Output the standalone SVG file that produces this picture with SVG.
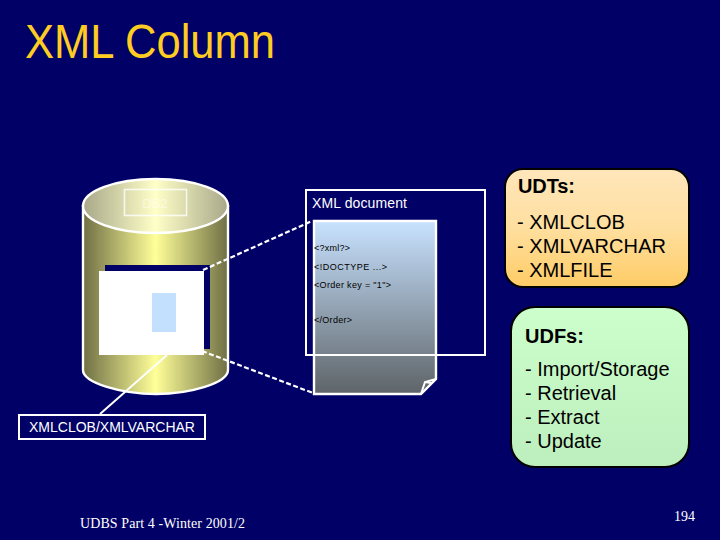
<svg xmlns="http://www.w3.org/2000/svg" width="720" height="540" viewBox="0 0 720 540">
<style>
.s{font-family:"Liberation Sans",Arial,sans-serif}
.w{stroke:#fff;stroke-width:2.4}
.d{fill:none;stroke:#fff;stroke-width:2.2;stroke-dasharray:5 2.500}
.t{font-size:20px;fill:#000}
.b{font-size:20px;fill:#000;font-weight:bold}
.x{font-size:9px;fill:#000}
.f{font-family:"Liberation Serif",serif;font-size:14px;fill:#fff}
</style>
<defs>
<linearGradient id="cyl"><stop offset="0" stop-color="#6f6f45"/><stop offset=".5" stop-color="#ffff99"/><stop offset="1" stop-color="#6f6f45"/></linearGradient>
<linearGradient id="top"><stop offset="0" stop-color="#a8a88a"/><stop offset=".5" stop-color="#ffffc8"/><stop offset="1" stop-color="#a8a88a"/></linearGradient>
<linearGradient id="doc" x2="0" y2="1"><stop offset="0" stop-color="#c8e2ff"/><stop offset="1" stop-color="#5e6468"/></linearGradient>
<linearGradient id="udt" x2="0" y2="1"><stop offset="0" stop-color="#ffe6bb"/><stop offset=".5" stop-color="#ffdf9f"/><stop offset="1" stop-color="#ffcc66"/></linearGradient>
<linearGradient id="udf" x2="0" y2="1"><stop offset="0" stop-color="#ccffcc"/><stop offset="1" stop-color="#bdeebd"/></linearGradient>
</defs>
<rect width="720" height="540" fill="#000066"/>
<text id="title" class="s" x="25" y="58" font-size="49" fill="#ffcc22" textLength="250" lengthAdjust="spacingAndGlyphs">XML Column</text>
<g id="db">
<path class="w" fill="url(#cyl)" d="M83 206V370C83 383 122 394 156 394S228 383 228 370V206Z"/>
<ellipse class="w" cx="155.500" cy="206" rx="72.500" ry="27" fill="url(#top)"/>
<rect x="124.500" y="189.500" width="62" height="26" fill="none" stroke="#fff" stroke-opacity=".8" stroke-width="1.600"/>
<text class="s" x="155" y="208" font-size="13" fill="#fff" fill-opacity=".5" text-anchor="middle">DB2</text>
<rect x="105" y="265" width="105" height="84" fill="#000066"/>
<rect x="99" y="271" width="105" height="84" fill="#fff"/>
<rect x="152" y="293" width="24" height="39" fill="#c4e0ff"/>
</g>
<g id="connectors">
<path class="d" d="M203 270L312 221"/>
<path class="d" d="M202 351L313 393"/>
<path d="M167 355L100 414" stroke="#fff" stroke-width="2" fill="none"/>
</g>
<g id="label">
<rect x="19" y="415" width="186" height="24" fill="#000066" stroke="#fff" stroke-width="2"/>
<text class="s" x="112" y="432" font-size="14" fill="#fff" text-anchor="middle">XMLCLOB/XMLVARCHAR</text>
</g>
<g id="xmldoc">
<path class="w" fill="url(#doc)" d="M314 221H436V379L421 394H314Z"/>
<path d="M436 379L425 382L421 394M425 382L431 383" fill="none" stroke="#fff" stroke-width="2"/>
<rect x="306" y="190" width="179" height="165" fill="none" stroke="#fff" stroke-width="2"/>
<text class="s" x="312" y="208" font-size="14" fill="#fff" textLength="95">XML document</text>
<text class="s x" x="314" y="251" textLength="36">&lt;?xml?&gt;</text>
<text class="s x" x="314" y="270" textLength="73">&lt;!DOCTYPE ...&gt;</text>
<text class="s x" x="314" y="288" textLength="77">&lt;Order key = "1"&gt;</text>
<text class="s x" x="314" y="323" textLength="38">&lt;/Order&gt;</text>
</g>
<g id="udts">
<rect x="505" y="169" width="184" height="118" rx="18" fill="url(#udt)" stroke="#000" stroke-width="2"/>
<text class="s b" x="518" y="193" textLength="57">UDTs:</text>
<text class="s t" x="517" y="229">- XMLCLOB</text>
<text class="s t" x="517" y="253" textLength="149">- XMLVARCHAR</text>
<text class="s t" x="517" y="277">- XMLFILE</text>
</g>
<g id="udfs">
<rect x="511" y="307" width="178" height="160" rx="24" fill="url(#udf)" stroke="#000" stroke-width="2"/>
<text class="s b" x="525" y="343">UDFs:</text>
<text class="s t" x="525" y="376">- Import/Storage</text>
<text class="s t" x="525" y="400">- Retrieval</text>
<text class="s t" x="525" y="424">- Extract</text>
<text class="s t" x="525" y="448">- Update</text>
</g>
<text id="footer" class="f" x="80" y="528" textLength="165">UDBS Part 4 -Winter 2001/2</text>
<text id="page" class="f" x="674" y="521">194</text>
</svg>
